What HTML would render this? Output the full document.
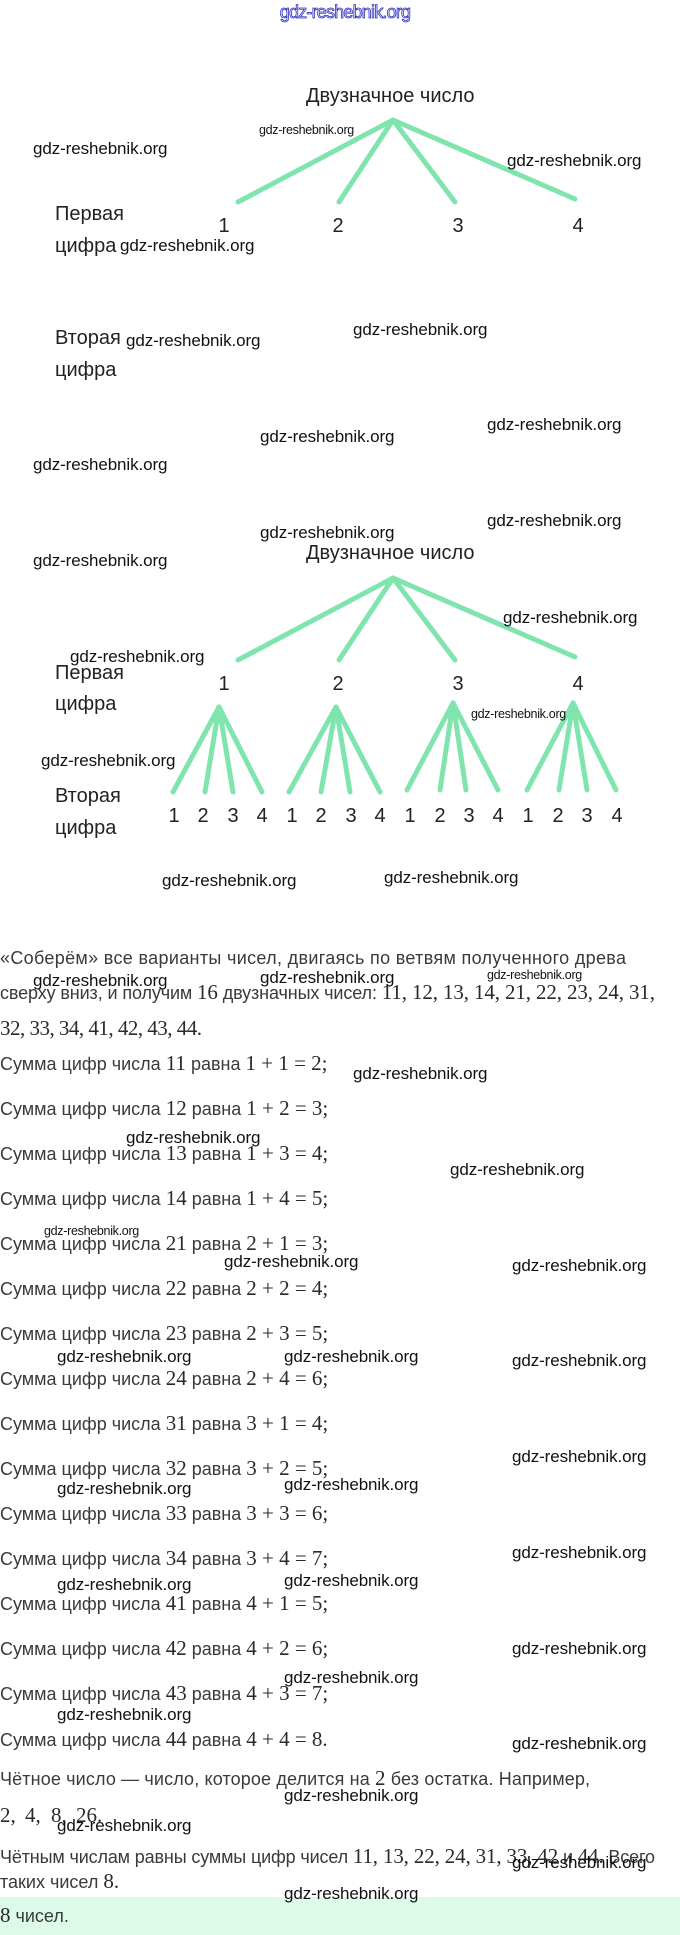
<!DOCTYPE html>
<html><head><meta charset="utf-8"><style>
html,body{margin:0;padding:0;background:#fff;}
svg{display:block;}
.w{font-family:"Liberation Sans",sans-serif;font-size:17px;fill:#111;letter-spacing:-0.1px;}
.ws{font-family:"Liberation Sans",sans-serif;font-size:12.5px;fill:#111;letter-spacing:-0.3px;}
.d{font-family:"Liberation Sans","Noto Sans CJK SC",sans-serif;font-size:20px;fill:#222;}
.t{font-family:"Liberation Sans","Noto Sans CJK SC",sans-serif;font-size:18px;fill:#3a3a3a;}
.m{font-family:"Liberation Serif",serif;font-size:21px;fill:#2a2a2a;}
</style></head><body>
<svg width="680" height="1935" viewBox="0 0 680 1935" xmlns="http://www.w3.org/2000/svg">
<rect x="0" y="1897" width="680" height="38" fill="#dcf9e9"/>
<text x="345" y="18" text-anchor="middle" font-family="Liberation Sans,sans-serif" font-size="18" fill="#eef" stroke="#3030c0" stroke-width="0.8" letter-spacing="-0.8">gdz-reshebnik.org</text>

<g stroke="#80e4ae" stroke-width="5" stroke-linecap="round" fill="none">
<line x1="393" y1="120" x2="238" y2="202"/><line x1="393" y1="120" x2="339" y2="202"/>
<line x1="393" y1="120" x2="455" y2="202"/><line x1="393" y1="120" x2="575" y2="199"/>
<line x1="393" y1="578" x2="238" y2="660"/><line x1="393" y1="578" x2="339" y2="660"/>
<line x1="393" y1="578" x2="455" y2="660"/><line x1="393" y1="578" x2="575" y2="657"/>
<line x1="219" y1="707" x2="173" y2="792"/><line x1="219" y1="707" x2="205" y2="792"/><line x1="219" y1="707" x2="233" y2="792"/><line x1="219" y1="707" x2="262" y2="792"/>
<line x1="336" y1="707" x2="289" y2="792"/><line x1="336" y1="707" x2="321" y2="792"/><line x1="336" y1="707" x2="350" y2="792"/><line x1="336" y1="707" x2="380" y2="792"/>
<line x1="453" y1="703" x2="407" y2="790"/><line x1="453" y1="703" x2="440" y2="790"/><line x1="453" y1="703" x2="466" y2="790"/><line x1="453" y1="703" x2="498" y2="790"/>
<line x1="573" y1="703" x2="527" y2="790"/><line x1="573" y1="703" x2="559" y2="790"/><line x1="573" y1="703" x2="587" y2="790"/><line x1="573" y1="703" x2="616" y2="790"/>
</g>

<g class="d">
<text x="306" y="102">Двузначное число</text>
<text x="55" y="220">Первая</text><text x="55" y="252">цифра</text>
<text x="55" y="344">Вторая</text><text x="55" y="376">цифра</text>
<text x="224" y="232" text-anchor="middle">1</text><text x="338" y="232" text-anchor="middle">2</text><text x="458" y="232" text-anchor="middle">3</text><text x="578" y="232" text-anchor="middle">4</text>
<text x="306" y="559">Двузначное число</text>
<text x="55" y="679">Первая</text><text x="55" y="710">цифра</text>
<text x="55" y="802">Вторая</text><text x="55" y="834">цифра</text>
<text x="224" y="690" text-anchor="middle">1</text><text x="338" y="690" text-anchor="middle">2</text><text x="458" y="690" text-anchor="middle">3</text><text x="578" y="690" text-anchor="middle">4</text>
</g>
<g class="d" text-anchor="middle">
<text x="174" y="822">1</text><text x="203" y="822">2</text><text x="233" y="822">3</text><text x="262" y="822">4</text>
<text x="292" y="822">1</text><text x="321" y="822">2</text><text x="351" y="822">3</text><text x="380" y="822">4</text>
<text x="410" y="822">1</text><text x="440" y="822">2</text><text x="469" y="822">3</text><text x="498" y="822">4</text>
<text x="528" y="822">1</text><text x="558" y="822">2</text><text x="587" y="822">3</text><text x="617" y="822">4</text>
</g>

<g class="t">
<text x="0" y="964" textLength="626">«Соберём» все варианты чисел, двигаясь по ветвям полученного древа</text>
<text x="0" y="999" textLength="655">сверху вниз, и получим <tspan class="m">16</tspan> двузначных чисел: <tspan class="m">11, 12, 13, 14, 21, 22, 23, 24, 31,</tspan></text>
<text x="0" y="1035" textLength="202"><tspan class="m">32, 33, 34, 41, 42, 43, 44.</tspan></text>
<text x="0" y="1070">Сумма цифр числа <tspan class="m">11</tspan> равна <tspan class="m">1 + 1 = 2;</tspan></text>
<text x="0" y="1115">Сумма цифр числа <tspan class="m">12</tspan> равна <tspan class="m">1 + 2 = 3;</tspan></text>
<text x="0" y="1160">Сумма цифр числа <tspan class="m">13</tspan> равна <tspan class="m">1 + 3 = 4;</tspan></text>
<text x="0" y="1205">Сумма цифр числа <tspan class="m">14</tspan> равна <tspan class="m">1 + 4 = 5;</tspan></text>
<text x="0" y="1250">Сумма цифр числа <tspan class="m">21</tspan> равна <tspan class="m">2 + 1 = 3;</tspan></text>
<text x="0" y="1295">Сумма цифр числа <tspan class="m">22</tspan> равна <tspan class="m">2 + 2 = 4;</tspan></text>
<text x="0" y="1340">Сумма цифр числа <tspan class="m">23</tspan> равна <tspan class="m">2 + 3 = 5;</tspan></text>
<text x="0" y="1385">Сумма цифр числа <tspan class="m">24</tspan> равна <tspan class="m">2 + 4 = 6;</tspan></text>
<text x="0" y="1430">Сумма цифр числа <tspan class="m">31</tspan> равна <tspan class="m">3 + 1 = 4;</tspan></text>
<text x="0" y="1475">Сумма цифр числа <tspan class="m">32</tspan> равна <tspan class="m">3 + 2 = 5;</tspan></text>
<text x="0" y="1520">Сумма цифр числа <tspan class="m">33</tspan> равна <tspan class="m">3 + 3 = 6;</tspan></text>
<text x="0" y="1565">Сумма цифр числа <tspan class="m">34</tspan> равна <tspan class="m">3 + 4 = 7;</tspan></text>
<text x="0" y="1610">Сумма цифр числа <tspan class="m">41</tspan> равна <tspan class="m">4 + 1 = 5;</tspan></text>
<text x="0" y="1655">Сумма цифр числа <tspan class="m">42</tspan> равна <tspan class="m">4 + 2 = 6;</tspan></text>
<text x="0" y="1700">Сумма цифр числа <tspan class="m">43</tspan> равна <tspan class="m">4 + 3 = 7;</tspan></text>
<text x="0" y="1746">Сумма цифр числа <tspan class="m">44</tspan> равна <tspan class="m">4 + 4 = 8.</tspan></text>
<text x="0" y="1785" textLength="590">Чётное число — число, которое делится на <tspan class="m">2</tspan> без остатка. Например,</text>
<text x="0" y="1822" class="m"><tspan x="0">2,</tspan><tspan x="25">4,</tspan><tspan x="51">8,</tspan><tspan x="76">26.</tspan></text>
<text x="0" y="1863" textLength="655">Чётным числам равны суммы цифр чисел <tspan class="m">11, 13, 22, 24, 31, 33, 42</tspan> и <tspan class="m">44.</tspan> Всего</text>
<text x="0" y="1888">таких чисел <tspan class="m">8.</tspan></text>
<text x="0" y="1922"><tspan class="m">8</tspan> чисел.</text>
</g>

<g class="w">
<text x="33" y="154">gdz-reshebnik.org</text><text x="507" y="166">gdz-reshebnik.org</text>
<text x="120" y="251">gdz-reshebnik.org</text><text x="126" y="346">gdz-reshebnik.org</text>
<text x="353" y="335">gdz-reshebnik.org</text><text x="487" y="430">gdz-reshebnik.org</text>
<text x="260" y="442">gdz-reshebnik.org</text><text x="33" y="470">gdz-reshebnik.org</text>
<text x="260" y="538">gdz-reshebnik.org</text><text x="487" y="526">gdz-reshebnik.org</text>
<text x="33" y="566">gdz-reshebnik.org</text><text x="503" y="623">gdz-reshebnik.org</text>
<text x="70" y="662">gdz-reshebnik.org</text><text x="41" y="766">gdz-reshebnik.org</text>
<text x="162" y="886">gdz-reshebnik.org</text><text x="384" y="883">gdz-reshebnik.org</text>
<text x="33" y="986">gdz-reshebnik.org</text><text x="260" y="983">gdz-reshebnik.org</text>
<text x="353" y="1079">gdz-reshebnik.org</text><text x="126" y="1143">gdz-reshebnik.org</text>
<text x="450" y="1175">gdz-reshebnik.org</text>
<text x="224" y="1267">gdz-reshebnik.org</text><text x="512" y="1271">gdz-reshebnik.org</text>
<text x="57" y="1362">gdz-reshebnik.org</text><text x="284" y="1362">gdz-reshebnik.org</text><text x="512" y="1366">gdz-reshebnik.org</text>
<text x="512" y="1462">gdz-reshebnik.org</text>
<text x="57" y="1494">gdz-reshebnik.org</text><text x="284" y="1490">gdz-reshebnik.org</text>
<text x="512" y="1558">gdz-reshebnik.org</text>
<text x="57" y="1590">gdz-reshebnik.org</text><text x="284" y="1586">gdz-reshebnik.org</text>
<text x="512" y="1654">gdz-reshebnik.org</text><text x="284" y="1683">gdz-reshebnik.org</text>
<text x="57" y="1720">gdz-reshebnik.org</text><text x="512" y="1749">gdz-reshebnik.org</text>
<text x="284" y="1801">gdz-reshebnik.org</text><text x="57" y="1831">gdz-reshebnik.org</text>
<text x="512" y="1868">gdz-reshebnik.org</text><text x="284" y="1899">gdz-reshebnik.org</text>
</g>
<g class="ws">
<text x="259" y="134">gdz-reshebnik.org</text>
<text x="471" y="718">gdz-reshebnik.org</text>
<text x="487" y="979">gdz-reshebnik.org</text>
<text x="44" y="1235">gdz-reshebnik.org</text>
</g>
</svg>
</body></html>
